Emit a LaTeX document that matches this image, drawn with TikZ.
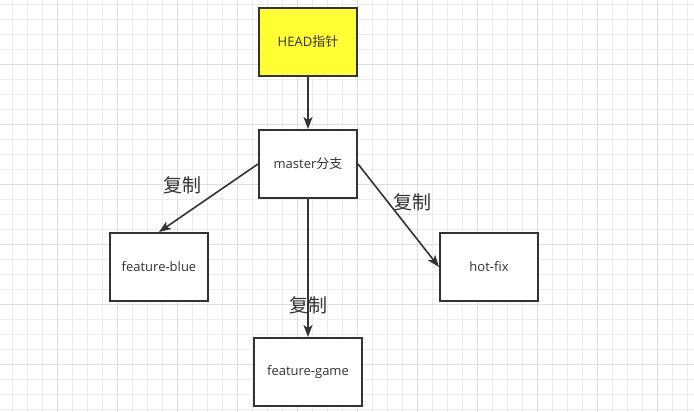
\documentclass[tikz,border=0pt]{standalone}
\usepackage{fontspec}
\setmainfont{Open Sans}
\newfontfamily\cjk{Noto Sans CJK SC}
\usetikzlibrary{arrows.meta,positioning}
\definecolor{linegray}{HTML}{333333}
\definecolor{gridminor}{HTML}{EBEBEB}
\definecolor{gridmajor}{HTML}{DEDEDE}
\definecolor{headyellow}{HTML}{FFFF33}
\tikzstyle{post}=[-{Stealth[length=12pt,width=9pt,inset=3pt]},draw=linegray,line width=1.6pt]
\tikzstyle{branch}=[draw=linegray,line width=2pt,fill=white,minimum width=98pt,minimum height=68pt,inner sep=0pt,text=linegray,font=\fontsize{13}{15}\selectfont]
\tikzstyle{copylabel}=[text=linegray,font=\cjk\fontsize{19}{22}\selectfont]

\begin{document}
\begin{tikzpicture}[x=1pt,y=-1pt]
            \fill[white] (0,0) rectangle (694,412);
            \useasboundingbox (0,0) rectangle (694,412);
            \foreach \x in {12.5,27.5,...,694} \draw[gridminor,line width=1pt] (\x,0) -- (\x,412);
            \foreach \y in {4.5,19.5,...,412} \draw[gridminor,line width=1pt] (0,\y) -- (694,\y);
            \foreach \x in {57.5,117.5,...,694} \draw[gridmajor,line width=1pt] (\x,0) -- (\x,412);
            \foreach \y in {64.5,124.5,...,412} \draw[gridmajor,line width=1pt] (0,\y) -- (694,\y);

            \node (head) [branch, fill=headyellow] at (308,42) {HEAD{\cjk 指针}};
            \node (master) [branch] [below=52pt of head] {master{\cjk 分支}};
            \node (blue) [branch] [below left=33pt and 49pt of master] {feature-blue};
            \node (hotfix) [branch] [below right=33pt and 81pt of master] {hot-fix};
            \node (game) [branch, minimum width=108pt] [below=138pt of master] {feature-game};

            \draw[post] (head) -- (master);
            \draw[post] (master.west) -- node[copylabel, above left, xshift=-3pt] {复制} (blue.north);
            \draw[post] (master.east) -- node[copylabel, above right, xshift=-9pt] {复制} (hotfix.west);
            \draw[post] (master) -- node[copylabel, pos=0.77] {复制} (game);
        \end{tikzpicture}
\end{document}
